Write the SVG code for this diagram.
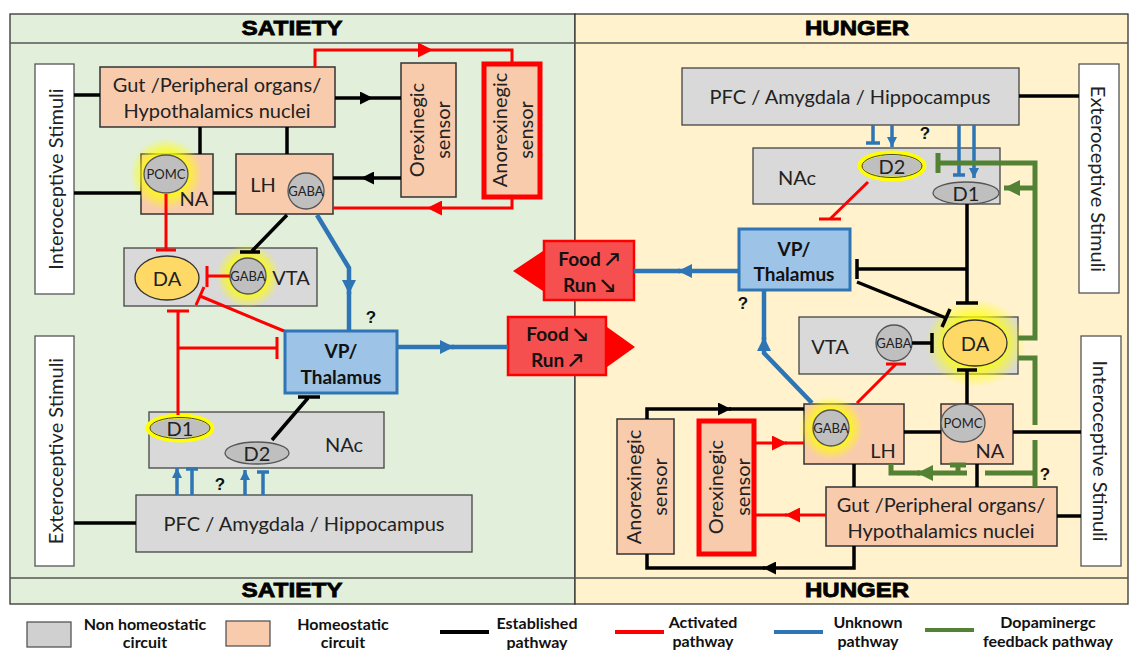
<svg xmlns="http://www.w3.org/2000/svg" width="1129" height="650" viewBox="0 0 1129 650">
<style>
.blk{stroke:#000;stroke-width:3.5;fill:none}
.red{stroke:#ff0000;stroke-width:3;fill:none}
.blu{stroke:#2e75b6;stroke-width:4.5;fill:none}
.blus{stroke:#2e75b6;stroke-width:3.5;fill:none}
.grn{stroke:#548235;stroke-width:5;fill:none}
.peach{fill:#f8cbad;stroke:#333;stroke-width:1.5}
.gray{fill:#d9d9d9;stroke:#444;stroke-width:1.3}
.white{fill:#fff;stroke:#555;stroke-width:1.3}
.circ{fill:#bfbfbf;stroke:#555;stroke-width:1.3}
.da{fill:#ffd966;stroke:#333;stroke-width:1.3}
.vp{fill:#9dc3e6;stroke:#2e75b6;stroke-width:3}
.food{fill:#f5504f;stroke:#ff0000;stroke-width:2.5}
.t{font-family:Lato,"Open Sans",sans-serif;font-size:20px;fill:#222;text-anchor:middle;dominant-baseline:central}
.ts{font-family:Lato,"Open Sans",sans-serif;font-size:13px;fill:#222;text-anchor:middle;dominant-baseline:central}
.tb{font-family:Lato,"Open Sans",sans-serif;font-size:19px;font-weight:bold;fill:#111;text-anchor:middle;dominant-baseline:central}
.hd{font-family:"Liberation Sans",Arial,sans-serif;font-size:21px;font-weight:bold;fill:#000;text-anchor:middle;stroke:#000;stroke-width:0.8}
.lg{font-family:Lato,"Open Sans",sans-serif;font-size:16px;font-weight:bold;fill:#111;text-anchor:middle;dominant-baseline:central}
.q{font-family:"Liberation Sans",Arial,sans-serif;font-size:17px;font-weight:bold;fill:#111;text-anchor:middle;dominant-baseline:central}
</style>
<defs>
<radialGradient id="glow">
<stop offset="0.55" stop-color="#ffff00" stop-opacity="0.85"/>
<stop offset="1" stop-color="#ffff00" stop-opacity="0"/>
</radialGradient>
<marker id="ab" viewBox="0 0 10 10" refX="10" refY="5" markerWidth="13" markerHeight="13" markerUnits="userSpaceOnUse" orient="auto"><path d="M0,0L10,5L0,10z" fill="#000"/></marker>
<marker id="ar" viewBox="0 0 10 10" refX="10" refY="5" markerWidth="15" markerHeight="15" markerUnits="userSpaceOnUse" orient="auto"><path d="M0,0L10,5L0,10z" fill="#ff0000"/></marker>
<marker id="au" viewBox="0 0 10 10" refX="10" refY="5" markerWidth="14" markerHeight="14" markerUnits="userSpaceOnUse" orient="auto"><path d="M0,0L10,5L0,10z" fill="#2e75b6"/></marker>
<marker id="aus" viewBox="0 0 10 10" refX="10" refY="5" markerWidth="10" markerHeight="10" markerUnits="userSpaceOnUse" orient="auto"><path d="M0,0L10,5L0,10z" fill="#2e75b6"/></marker>
<marker id="ag" viewBox="0 0 10 10" refX="10" refY="5" markerWidth="16" markerHeight="16" markerUnits="userSpaceOnUse" orient="auto"><path d="M0,0L10,5L0,10z" fill="#548235"/></marker>
</defs>

<!-- panels -->
<g id="panels">
<rect x="10" y="14" width="565" height="590" fill="#e2efda" stroke="#333" stroke-width="1.3"/>
<rect x="575" y="14" width="553" height="590" fill="#fff2cc" stroke="#333" stroke-width="1.3"/>
<line x1="10" y1="43" x2="1128" y2="43" stroke="#555" stroke-width="1.3"/>
<line x1="10" y1="578" x2="1128" y2="578" stroke="#555" stroke-width="1.3"/>
<text class="hd" x="292" y="35" textLength="101" lengthAdjust="spacingAndGlyphs">SATIETY</text>
<text class="hd" x="857" y="35" textLength="104" lengthAdjust="spacingAndGlyphs">HUNGER</text>
<text class="hd" x="292" y="597" textLength="101" lengthAdjust="spacingAndGlyphs">SATIETY</text>
<text class="hd" x="857" y="597" textLength="104" lengthAdjust="spacingAndGlyphs">HUNGER</text>
</g>

<!-- left nodes -->
<g id="intero-left"><rect class="white" x="35" y="64" width="39" height="230"/><text class="t" transform="translate(55,179) rotate(-90)">Interoceptive Stimuli</text></g>
<g id="extero-left"><rect class="white" x="35" y="336" width="39" height="230"/><text class="t" transform="translate(55,451) rotate(-90)">Exteroceptive Stimuli</text></g>
<g id="gut-left"><rect class="peach" x="100" y="67" width="235" height="60"/><text class="t" x="217" y="84">Gut /Peripheral organs/</text><text class="t" x="217" y="110">Hypothalamics nuclei</text></g>
<g id="na-left"><rect class="peach" x="141" y="154" width="72" height="60"/><circle cx="166" cy="174" r="36" fill="url(#glow)"/><ellipse class="circ" cx="166" cy="174" rx="22" ry="19"/><text class="ts" x="166" y="174">POMC</text><text class="t" x="194" y="198">NA</text></g>
<g id="lh-left"><rect class="peach" x="236" y="154" width="97" height="60"/><text class="t" x="263" y="184">LH</text><circle class="circ" cx="306" cy="191" r="18"/><text class="ts" x="306" y="191">GABA</text></g>
<g id="orex-left"><rect class="peach" x="401" y="63" width="55" height="134"/><text class="t" transform="translate(416,130) rotate(-90)">Orexinegic</text><text class="t" transform="translate(442,130) rotate(-90)">sensor</text></g>
<g id="anorex-left"><rect x="484" y="64" width="56" height="133" fill="#f8cbad" stroke="#ff0000" stroke-width="5"/><text class="t" transform="translate(499,130) rotate(-90)">Anorexinegic</text><text class="t" transform="translate(525,130) rotate(-90)">sensor</text></g>
<g id="vta-left"><rect class="gray" x="124" y="248" width="193" height="58"/><ellipse class="da" cx="167" cy="278" rx="32" ry="22"/><text class="t" x="167" y="278">DA</text><circle cx="248" cy="276" r="32" fill="url(#glow)"/><circle class="circ" cx="248" cy="276" r="18"/><text class="ts" x="248" y="276">GABA</text><text class="t" x="291" y="277">VTA</text></g>
<g id="vp-left"><rect class="vp" x="285" y="331" width="112" height="62"/><text class="tb" x="341" y="350">VP/</text><text class="tb" x="341" y="376">Thalamus</text></g>
<g id="food-left"><rect class="food" x="508" y="317" width="98" height="58"/><polygon points="607,327 635,347 607,367" fill="#ff0000"/><text class="tb" x="557" y="333">Food ↘</text><text class="tb" x="557" y="359">Run ↗</text></g>
<g id="nac-left"><rect class="gray" x="149" y="412" width="235" height="56"/><ellipse cx="180" cy="428" rx="32" ry="12" fill="#bfbfbf" stroke="#ffff00" stroke-width="5"/><ellipse cx="180" cy="428" rx="30" ry="10.5" fill="none" stroke="#444" stroke-width="1"/><text class="t" x="180" y="428">D1</text><ellipse class="circ" cx="257" cy="453" rx="32" ry="11"/><text class="t" x="257" y="453">D2</text><text class="t" x="344" y="444">NAc</text></g>
<g id="pfc-left"><rect class="gray" x="136" y="495" width="336" height="57"/><text class="t" x="304" y="523">PFC / Amygdala / Hippocampus</text></g>

<!-- right nodes -->
<g id="pfc-right"><rect class="gray" x="682" y="68" width="337" height="57"/><text class="t" x="850" y="96">PFC / Amygdala / Hippocampus</text></g>
<g id="extero-right"><rect class="white" x="1079" y="64" width="40" height="229"/><text class="t" transform="translate(1099,179) rotate(90)">Exteroceptive Stimuli</text></g>
<g id="intero-right"><rect class="white" x="1081" y="336" width="40" height="230"/><text class="t" transform="translate(1101,451) rotate(90)">Interoceptive Stimuli</text></g>
<g id="nac-right"><rect class="gray" x="753" y="148" width="247" height="56"/><text class="t" x="797" y="177">NAc</text><ellipse cx="892" cy="166" rx="32" ry="13" fill="#bfbfbf" stroke="#ffff00" stroke-width="5"/><ellipse cx="892" cy="166" rx="30" ry="11.5" fill="none" stroke="#444" stroke-width="1"/><text class="t" x="892" y="166">D2</text><ellipse class="circ" cx="966" cy="193" rx="33" ry="11"/><text class="t" x="966" y="193">D1</text></g>
<g id="vp-right"><rect class="vp" x="739" y="229" width="111" height="61"/><text class="tb" x="794" y="248">VP/</text><text class="tb" x="794" y="273">Thalamus</text></g>
<g id="food-right"><rect class="food" x="544" y="241" width="90" height="59"/><polygon points="543,251 513,271 543,291" fill="#ff0000"/><text class="tb" x="589" y="258">Food ↗</text><text class="tb" x="589" y="284">Run ↘</text></g>
<g id="vta-right"><rect class="gray" x="799" y="317" width="219" height="57"/><text class="t" x="830" y="346">VTA</text><circle class="circ" cx="894" cy="343" r="18"/><text class="ts" x="894" y="343">GABA</text><ellipse cx="975" cy="343" rx="50" ry="44" fill="url(#glow)"/><ellipse class="da" cx="975" cy="343" rx="32" ry="23"/><text class="t" x="975" y="343">DA</text></g>
<g id="lh-right"><rect class="peach" x="804" y="404" width="100" height="60"/><circle cx="831" cy="428" r="32" fill="url(#glow)"/><circle class="circ" cx="831" cy="428" r="18"/><text class="ts" x="831" y="428">GABA</text><text class="t" x="883" y="450">LH</text></g>
<g id="na-right"><rect class="peach" x="941" y="404" width="72" height="60"/><ellipse class="circ" cx="963" cy="423" rx="22" ry="19"/><text class="ts" x="963" y="423">POMC</text><text class="t" x="990" y="450">NA</text></g>
<g id="gut-right"><rect class="peach" x="826" y="487" width="231" height="59"/><text class="t" x="941" y="504">Gut /Peripheral organs/</text><text class="t" x="941" y="530">Hypothalamics nuclei</text></g>
<g id="anorex-right"><rect class="peach" x="617" y="419" width="57" height="135"/><text class="t" transform="translate(633,487) rotate(-90)">Anorexinegic</text><text class="t" transform="translate(659,487) rotate(-90)">sensor</text></g>
<g id="orex-right"><rect x="699" y="421" width="55" height="133" fill="#f8cbad" stroke="#ff0000" stroke-width="5"/><text class="t" transform="translate(715,487) rotate(-90)">Orexinegic</text><text class="t" transform="translate(742,487) rotate(-90)">sensor</text></g>

<!-- connectors -->
<g id="connectors">
<!-- left -->
<path class="blk" d="M74,95H100"/>
<path class="blk" d="M74,193H141"/>
<path class="blk" d="M200,127V154"/>
<path class="blk" d="M287,127V154"/>
<path class="blk" d="M213,193H236"/>
<path class="blk" d="M335,98H373" marker-end="url(#ab)"/>
<path class="blk" d="M373,98H401"/>
<path class="blk" d="M401,178H361" marker-end="url(#ab)"/>
<path class="blk" d="M361,178H333"/>
<path class="red" d="M315,67V50H433" marker-end="url(#ar)"/>
<path class="red" d="M433,50H512V62"/>
<path class="red" d="M512,199V208H427" marker-end="url(#ar)"/>
<path class="red" d="M427,208H333"/>
<path class="red" d="M166,194V250M156,250H176"/>
<path class="blk" d="M287,215L252,251M240,252H260"/>
<path class="red" d="M230,276H207M207,266V287"/>
<path class="blu" d="M317,215L349,268V294" marker-end="url(#au)"/>
<path class="blu" d="M349,292V331"/>
<path class="red" d="M284,331L200,296M204,287L196,305"/>
<path class="red" d="M178,415V311M167,311H189"/>
<path class="red" d="M178,348H277M277,337V359"/>
<path class="blu" d="M397,347H454" marker-end="url(#au)"/>
<path class="blu" d="M452,347H508"/>
<path class="blk" d="M272,440L308,398M298,397H320"/>
<path class="blus" d="M177,495V468" marker-end="url(#aus)"/>
<path class="blus" d="M192,495V469M186,469H198"/>
<path class="blus" d="M245,495V470" marker-end="url(#aus)"/>
<path class="blus" d="M263,495V472M257,472H269"/>
<path class="blk" d="M74,523H136"/>
<!-- right -->
<path class="blk" d="M1019,96H1079"/>
<path class="blus" d="M873,125V143M866,143H880"/>
<path class="blus" d="M892,125V147" marker-end="url(#aus)"/>
<path class="blus" d="M959,125V175M953,175H965"/>
<path class="blus" d="M974,125V178" marker-end="url(#aus)"/>
<path class="grn" d="M1018,338H1035V163H938M938,153V173"/>
<path class="grn" d="M1035,188H1004" marker-end="url(#ag)"/>
<path class="grn" d="M1018,358H1035V425M1035,440V487M1035,473H985"/>
<path class="grn" d="M967,473H917" marker-end="url(#ag)"/>
<path class="grn" d="M920,473H891V464M958,473V465M950,465H966"/>
<path class="blk" d="M967,204V303M956,303H978"/>
<path class="blk" d="M967,269H857M857,259V279"/>
<path class="blk" d="M857,282L946,318M942,327L950,309"/>
<path class="red" d="M868,182L830,219M819,219H841"/>
<path class="blu" d="M739,271H678" marker-end="url(#au)"/>
<path class="blu" d="M680,271H634"/>
<path class="blu" d="M812,403L764,353V337" marker-end="url(#au)"/>
<path class="blu" d="M764,340V290"/>
<path class="blk" d="M912,343H932M932,333V353"/>
<path class="blk" d="M967,404V370M957,370H977"/>
<path class="red" d="M857,403L896,364M886,364H906"/>
<path class="blk" d="M904,432H941"/>
<path class="blk" d="M1013,432H1081"/>
<path class="blk" d="M854,464V487"/>
<path class="blk" d="M977,464V487"/>
<path class="blk" d="M1057,516H1081"/>
<path class="blk" d="M647,419V409H731" marker-end="url(#ab)"/>
<path class="blk" d="M729,409H804"/>
<path class="blk" d="M854,546V568H763" marker-end="url(#ab)"/>
<path class="blk" d="M765,568H647V554"/>
<path class="red" d="M756,443H787" marker-end="url(#ar)"/>
<path class="red" d="M785,443H804"/>
<path class="red" d="M826,515H785" marker-end="url(#ar)"/>
<path class="red" d="M787,515H756"/>
</g>

<!-- question marks -->
<g id="questions">
<text class="q" x="371" y="317">?</text>
<text class="q" x="220" y="484">?</text>
<text class="q" x="925" y="133">?</text>
<text class="q" x="743" y="303">?</text>
<text class="q" x="1045" y="474">?</text>
</g>

<!-- legend -->
<g id="legend">
<rect x="27" y="622" width="44" height="25" fill="#d0d0d0" stroke="#555" stroke-width="1.3"/>
<text class="lg" x="145" y="623">Non homeostatic</text><text class="lg" x="145" y="641">circuit</text>
<rect x="226" y="621" width="44" height="25" fill="#f8cbad" stroke="#555" stroke-width="1.3"/>
<text class="lg" x="343" y="623">Homeostatic</text><text class="lg" x="343" y="641">circuit</text>
<line x1="440" y1="632" x2="489" y2="632" stroke="#000" stroke-width="4"/>
<text class="lg" x="537" y="622">Established</text><text class="lg" x="537" y="641">pathway</text>
<line x1="615" y1="632" x2="664" y2="632" stroke="#ff0000" stroke-width="4"/>
<text class="lg" x="703" y="621">Activated</text><text class="lg" x="703" y="640">pathway</text>
<line x1="774" y1="632" x2="823" y2="632" stroke="#2e75b6" stroke-width="4"/>
<text class="lg" x="868" y="621">Unknown</text><text class="lg" x="868" y="640">pathway</text>
<line x1="925" y1="630" x2="974" y2="630" stroke="#548235" stroke-width="4"/>
<text class="lg" x="1048" y="621">Dopaminergc</text><text class="lg" x="1048" y="640">feedback pathway</text>
</g>
</svg>
